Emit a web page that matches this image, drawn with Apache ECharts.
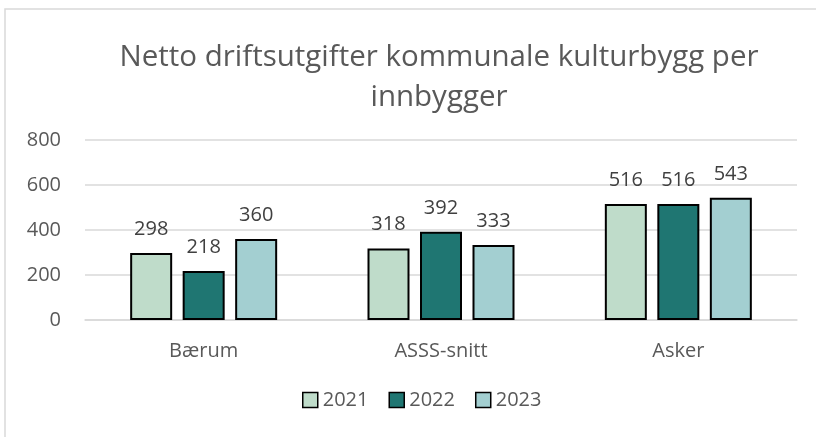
<!DOCTYPE html>
<html>
<head>
<meta charset="utf-8">
<script src="https://cdn.jsdelivr.net/npm/echarts@6/dist/echarts.min.js"></script>
<style>
  html, body { margin: 0; padding: 0; background: #fff; }
  #chart { width: 816px; height: 437px; }
</style>
</head>
<body>
<div id="chart"></div>
<script>
const categories = ['Bærum', 'ASSS-snitt', 'Asker'];
const years = ['2021', '2022', '2023'];
const values2021 = [298, 318, 516];
const values2022 = [218, 392, 516];
const values2023 = [360, 333, 543];
const yTicks = [0, 200, 400, 600, 800];

const colors = ['#BFDCCA', '#1F7672', '#A3CFD1'];
const font = '"Open Sans", "Noto Sans", sans-serif';

function makeSeries(name, data, i) {
  return {
    name: name,
    type: 'bar',
    data: data,
    barWidth: 42,
    barGap: '25%',
    itemStyle: { color: colors[i], borderColor: '#000', borderWidth: 2 },
    label: {
      show: true,
      position: 'top',
      distance: 14,
      color: '#404040',
      fontSize: 20,
      fontFamily: font
    }
  };
}

const chart = echarts.init(document.getElementById('chart'));
chart.setOption({
  animation: false,
  color: colors,
  title: {
    text: 'Netto driftsutgifter kommunale kulturbygg per\ninnbygger',
    left: 434,
    textAlign: 'center',
    top: 33,
    textStyle: {
      fontSize: 29.5,
      fontWeight: 'normal',
      color: '#595959',
      fontFamily: font,
      lineHeight: 40
    }
  },
  graphic: [{
    type: 'rect',
    shape: { x: 5, y: 9, width: 900, height: 600 },
    style: { fill: 'none', stroke: '#d9d9d9', lineWidth: 1.5 },
    silent: true
  }],
  grid: { left: 85, right: 19, top: 140, bottom: 117 },
  legend: {
    data: years,
    bottom: 22,
    left: 297,
    itemWidth: 15,
    itemHeight: 15,
    itemGap: 20,
    icon: 'rect',
    itemStyle: { borderColor: '#000', borderWidth: 1.5 },
    textStyle: { fontSize: 20, color: '#595959', fontFamily: font }
  },
  xAxis: {
    type: 'category',
    data: categories,
    axisTick: { show: false },
    axisLine: { lineStyle: { color: '#d9d9d9', width: 1.5 } },
    axisLabel: { fontSize: 20, color: '#595959', fontFamily: font, margin: 21 }
  },
  yAxis: {
    type: 'value',
    min: yTicks[0],
    max: yTicks[yTicks.length - 1],
    interval: 200,
    axisLine: { show: false },
    axisTick: { show: false },
    splitLine: { lineStyle: { color: '#d9d9d9', width: 1.5 } },
    axisLabel: { fontSize: 20, color: '#595959', fontFamily: font, margin: 24 }
  },
  series: [
    makeSeries(years[0], values2021, 0),
    makeSeries(years[1], values2022, 1),
    makeSeries(years[2], values2023, 2)
  ]
});
</script>
</body>
</html>
